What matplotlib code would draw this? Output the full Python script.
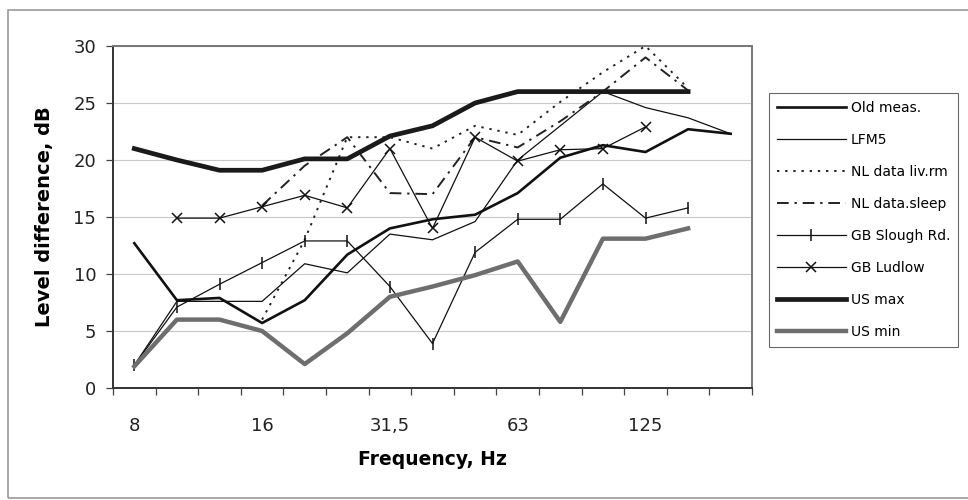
import numpy as np
import matplotlib
matplotlib.use("Agg")
import matplotlib.pyplot as plt
from matplotlib.patches import Rectangle

plt.rcParams['font.family'] = ['DejaVu Sans']

nan = np.nan
categories = ["8", "10", "12,5", "16", "20", "25", "31,5", "40", "50", "63", "80", "100", "125", "160", "200"]
shown_labels = ["8", "", "", "16", "", "", "31,5", "", "", "63", "", "", "125", "", ""]

old_meas = [12.7, 7.7, 7.9, 5.7, 7.7, 11.7, 14.0, 14.8, 15.2, 17.1, 20.2, 21.3, 20.7, 22.7, 22.3]
lfm5 = [2.0, 7.6, 7.6, 7.6, 10.9, 10.1, 13.5, 13.0, 14.6, 20.0, 23.0, 26.0, 24.6, 23.7, 22.3]
nl_livrm = [nan, nan, nan, 6.0, 13.0, 22.0, 22.0, 21.0, 23.0, 22.2, 25.1, 27.7, 30.0, 26.3, nan]
nl_sleep = [nan, nan, nan, 16.0, 19.5, 22.0, 17.1, 17.0, 22.0, 21.1, 23.4, 26.0, 29.0, 26.1, nan]
gb_slough = [2.0, 7.1, 9.1, 11.0, 12.9, 12.9, 8.9, 3.9, 11.9, 14.8, 14.8, 17.9, 14.9, 15.8, nan]
gb_ludlow = [nan, 14.9, 14.9, 15.9, 16.9, 15.8, 21.0, 14.0, 22.0, 19.9, 20.9, 21.0, 22.9, nan, nan]
us_max = [21.0, 20.0, 19.1, 19.1, 20.1, 20.1, 22.1, 23.0, 25.0, 26.0, 26.0, 26.0, 26.0, 26.0, nan]
us_min = [1.9, 6.0, 6.0, 5.0, 2.1, 4.8, 8.0, 8.9, 9.9, 11.1, 5.8, 13.1, 13.1, 14.0, nan]

fig = plt.figure(figsize=(9.68, 5.0), dpi=100)
fig.patch.set_facecolor('white')
# outer chart border
fig.add_artist(Rectangle((8/968, 2/500), 1.0, 488/500, transform=fig.transFigure,
                         fill=False, edgecolor='#9a9a9a', linewidth=1.2))

ax = fig.add_axes([113/968, 1 - 388/500, (752 - 113)/968, (388 - 46)/500])
x = np.arange(len(categories))

ax.plot(x, old_meas, color='#111111', lw=1.9, label='Old meas.', zorder=3)
ax.plot(x, lfm5, color='#111111', lw=0.9, label='LFM5', zorder=3)
ax.plot(x, nl_livrm, color='#222222', lw=1.4, linestyle=(0, (1.2, 3.0)), label='NL data liv.rm', zorder=3)
ax.plot(x, nl_sleep, color='#222222', lw=1.4, linestyle=(0, (6, 3, 1.2, 3)), label='NL data.sleep', zorder=3)
ax.plot(x, gb_slough, color='#111111', lw=0.9, marker='|', markersize=8, markeredgewidth=1.1,
        label='GB Slough Rd.', zorder=3)
ax.plot(x, gb_ludlow, color='#111111', lw=0.9, marker='x', markersize=7, markeredgewidth=1.1,
        label='GB Ludlow', zorder=3)
ax.plot(x, us_max, color='#1a1a1a', lw=3.4, label='US max', zorder=3)
ax.plot(x, us_min, color='#6e6e6e', lw=3.2, label='US min', zorder=3)

ax.set_xlim(-0.5, len(categories) - 0.5)
ax.set_ylim(0, 30)
ax.set_yticks(np.arange(0, 31, 5))
ax.yaxis.grid(True, color='#c8c8c8', lw=0.8)
ax.set_axisbelow(True)

ax.set_xticks(x)
ax.set_xticklabels(shown_labels, fontsize=13, color='#222222')
ax.set_xticks(np.arange(-0.5, len(categories), 1.0), minor=True)
ax.tick_params(axis='x', which='major', length=0, pad=21)
ax.tick_params(axis='x', which='minor', length=5, width=0.9, color='#444444', direction='out')
ax.tick_params(axis='y', length=5, width=0.9, color='#444444', labelsize=13, labelcolor='#222222', pad=7)

for s in ['top', 'right']:
    ax.spines[s].set_color('#777777')
    ax.spines[s].set_linewidth(1.4)
for s in ['left', 'bottom']:
    ax.spines[s].set_color('#333333')
    ax.spines[s].set_linewidth(1.4)

ax.set_xlabel('Frequency, Hz', fontsize=13.5, fontweight='bold', labelpad=11)
ax.set_ylabel('Level difference, dB', fontsize=14, fontweight='bold', labelpad=14)

leg = fig.legend(loc='upper left', bbox_to_anchor=(769/968, 1 - 93/500), bbox_transform=fig.transFigure,
                 fontsize=10, frameon=True, fancybox=False, edgecolor='#444444',
                 handlelength=5.0, handletextpad=0.35, labelspacing=1.3, borderpad=0.55,
                 borderaxespad=0.0)
leg.get_frame().set_linewidth(0.8)

fig.savefig('out.png', dpi=100)
